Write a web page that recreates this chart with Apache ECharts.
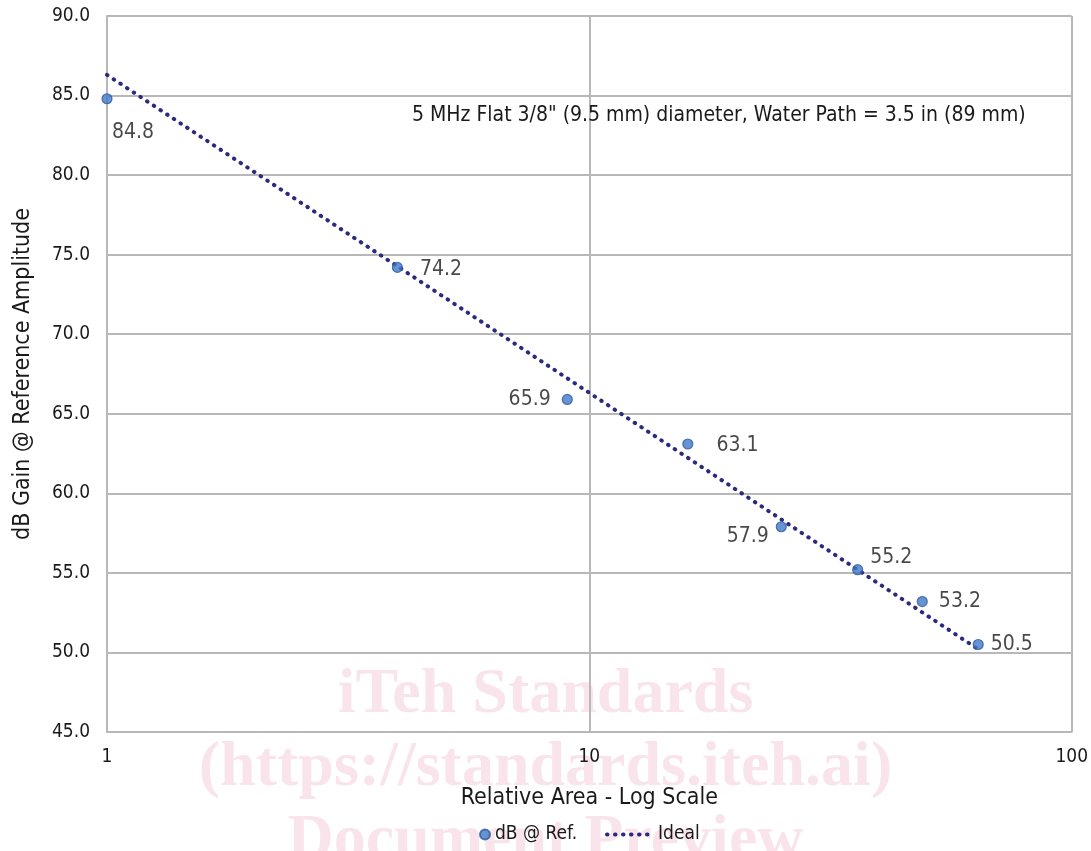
<!DOCTYPE html>
<html>
<head>
<meta charset="utf-8">
<script src="https://cdn.jsdelivr.net/npm/echarts@6/dist/echarts.min.js"></script>
<style>html,body{margin:0;padding:0;background:#fff}#c{width:1091px;height:851px}</style>
</head>
<body>
<div id="c"></div>
<script>
// ---- data ----
var areas = [1, 4, 9, 16, 25, 36, 49, 64];
var gains = [84.8, 74.2, 65.9, 63.1, 57.9, 55.2, 53.2, 50.5];
var idealAreas = [1, 64];
var idealGains = [86.3, 50.2];
var yTicks = [45, 50, 55, 60, 65, 70, 75, 80, 85, 90];
var seriesNames = ['dB @ Ref.', 'Ideal'];
var annotation = '5 MHz Flat 3/8" (9.5 mm) diameter, Water Path = 3.5 in (89 mm)';
var watermark = ['iTeh Standards', '(https://standards.iteh.ai)', 'Document Preview'];

// label placement (style, not data)
var labelPlace = [
  {position: 'bottom', offset: [26, 13]},
  {position: 'right', offset: [12, 2]},
  {position: 'left', offset: [-6, 0]},
  {position: 'right', offset: [18, 2]},
  {position: 'left', offset: [-2, 10]},
  {position: 'right', offset: [2, -12]},
  {position: 'right', offset: [6, 0]},
  {position: 'right', offset: [2, 0]}
];

var font = '"DejaVu Sans Condensed", "DejaVu Sans", Verdana, sans-serif';
var chart = echarts.init(document.getElementById('c'), null, {renderer: 'canvas'});
var scatterData = areas.map(function (a, i) {
  return {
    value: [a, gains[i]],
    label: {show: true, position: labelPlace[i].position, offset: labelPlace[i].offset,
      color: '#1a1a1a',
      formatter: function (p) { return p.value[1].toFixed(1); }}
  };
});
var idealData = idealAreas.map(function (a, i) { return [a, idealGains[i]]; });

chart.setOption({
  animation: false,
  graphic: watermark.map(function (t, i) {
    return {
      type: 'text', left: 'center', top: 663 + i * 73, z: -10, silent: true,
      style: {text: t, font: 'bold 64px "Liberation Serif", serif', fill: 'rgba(232,120,155,0.2)'}
    };
  }).concat([{
    type: 'text', left: 412, top: 105, z: 10,
    style: {text: annotation, font: '21px ' + font, fill: '#1a1a1a'}
  }]),
  grid: {left: 107, right: 18, top: 16, bottom: 119},
  legend: [{
    bottom: 2, left: 474, itemWidth: 10, itemHeight: 10, itemGap: 6,
    textStyle: {fontFamily: font, fontSize: 19, color: '#1a1a1a'},
    data: [{name: seriesNames[0], icon: 'circle', itemStyle: {color: '#4178c8'}}]
  }, {
    bottom: 2, left: 600, itemWidth: 46, itemHeight: 10,
    textStyle: {fontFamily: font, fontSize: 19, color: '#1a1a1a'},
    data: [{name: seriesNames[1], itemStyle: {opacity: 0},
      lineStyle: {width: 4, color: '#2b2a7c', type: [0.5, 7.5], cap: 'round'}}]
  }],
  xAxis: {
    type: 'log', logBase: 10, min: 1, max: 100,
    name: 'Relative Area - Log Scale', nameLocation: 'middle', nameGap: 55,
    nameTextStyle: {fontFamily: font, fontSize: 23, color: '#1a1a1a'},
    axisLine: {show: true, lineStyle: {color: '#b8b8b8', width: 2}},
    axisTick: {show: false},
    axisLabel: {fontFamily: font, fontSize: 19, color: '#1a1a1a', margin: 16},
    splitLine: {show: true, lineStyle: {color: '#b8b8b8', width: 2}},
    minorSplitLine: {show: false}
  },
  yAxis: {
    type: 'value', min: yTicks[0], max: yTicks[yTicks.length - 1], interval: 5,
    name: 'dB Gain @ Reference Amplitude', nameLocation: 'middle', nameGap: 72,
    nameTextStyle: {fontFamily: font, fontSize: 23, color: '#1a1a1a'},
    axisLine: {show: true, lineStyle: {color: '#b8b8b8', width: 2}},
    axisTick: {show: false},
    axisLabel: {fontFamily: font, fontSize: 19, color: '#1a1a1a', margin: 17,
      formatter: function (v) { return v.toFixed(1); }},
    splitLine: {show: true, lineStyle: {color: '#b8b8b8', width: 2}}
  },
  series: [
    {
      name: seriesNames[1], type: 'line', data: idealData, symbol: 'none', z: 2,
      lineStyle: {color: '#2b2a7c', width: 4, type: [0.5, 7.5], cap: 'round'},
      itemStyle: {color: '#2b2a7c'}
    },
    {
      name: seriesNames[0], type: 'scatter', data: scatterData, symbolSize: 10, z: 3,
      itemStyle: {color: '#4178c8', borderColor: '#2c5a9e', borderWidth: 1.2},
      label: {fontFamily: font, fontSize: 21, color: '#1a1a1a'}
    }
  ]
});
</script>
</body>
</html>
